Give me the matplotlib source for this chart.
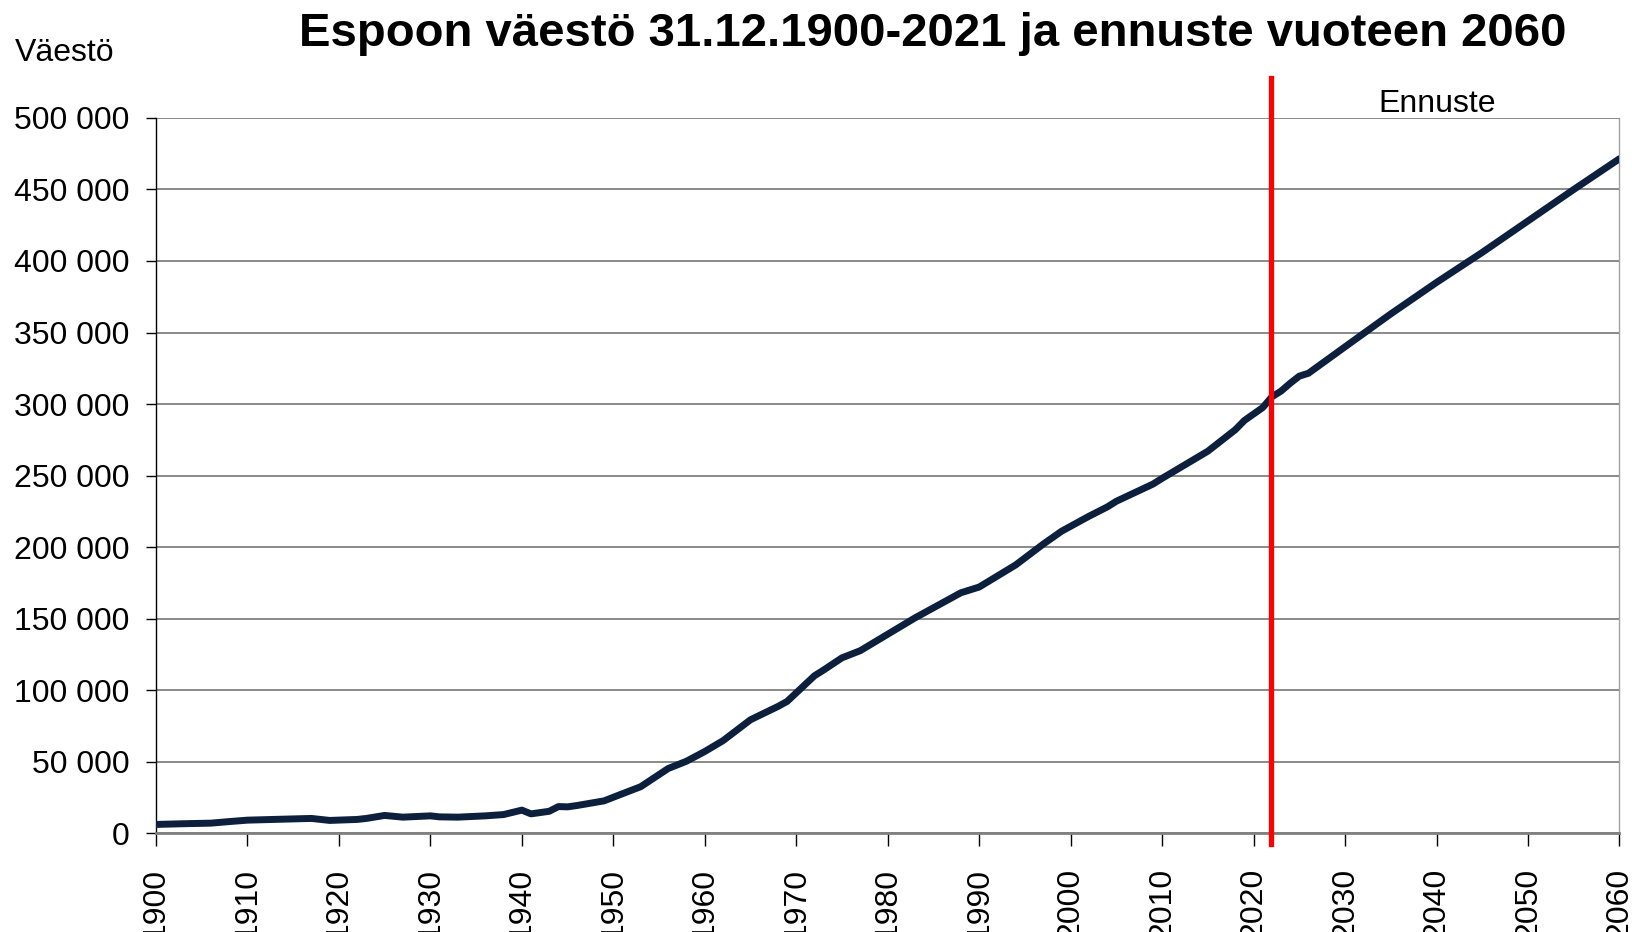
import matplotlib
matplotlib.use("Agg")
import matplotlib.pyplot as plt
from matplotlib.ticker import FuncFormatter, MultipleLocator

plt.rcParams['font.family'] = ['Liberation Sans', 'DejaVu Sans']

# Historical population (31.12.)
hist_years = [1900, 1903, 1906, 1908, 1910, 1914, 1917, 1919, 1922, 1923, 1925, 1927,
              1930, 1931, 1933, 1936, 1938, 1940, 1941, 1943, 1944, 1945, 1946, 1949,
              1950, 1953, 1956, 1958, 1960, 1962, 1965, 1968, 1969, 1972, 1973, 1975,
              1977, 1980, 1983, 1986, 1988, 1990, 1994, 1997, 1999, 2002, 2004, 2005,
              2009, 2010, 2015, 2018, 2019, 2020, 2021]
hist_values = [6000, 6500, 6900, 8000, 9000, 9700, 10200, 8800, 9500, 10200, 12300, 11100,
               12000, 11300, 11100, 12000, 12900, 16000, 13400, 15200, 18500, 18300, 19200, 22500,
               25000, 32400, 45100, 50200, 57000, 64600, 79200, 88500, 92000, 110000, 114000, 122500,
               127500, 139000, 150500, 161000, 168000, 172000, 187500, 202000, 211000, 221500, 228000, 232000,
               244000, 248000, 267000, 282000, 288500, 293000, 297500]

# Forecast
fc_years = [2022, 2023, 2024, 2025, 2026, 2030, 2035, 2040, 2045, 2050, 2055, 2060]
fc_values = [305000, 309000, 314500, 319500, 321500, 340000, 363000, 385000, 406000, 428000, 450000, 471500]

years = hist_years + fc_years
values = hist_values + fc_values

forecast_start = 2021.9
title = "Espoon väestö 31.12.1900-2021 ja ennuste vuoteen 2060"
ylabel = "Väestö"
forecast_label = "Ennuste"

fig = plt.figure(figsize=(16.33, 9.32), dpi=100)
ax = fig.add_axes([0.0955, 0.1062, 0.8962, 0.7672])

ax.plot(years, values, color='#0c1f3d', lw=5.0, solid_joinstyle='round',
        solid_capstyle='round', zorder=3)

ax.set_xlim(1900, 2060)
ax.set_ylim(0, 500000)
ax.xaxis.set_major_locator(MultipleLocator(10))
ax.yaxis.set_major_locator(MultipleLocator(50000))
ax.yaxis.set_major_formatter(FuncFormatter(lambda v, p: f"{int(v):,}".replace(",", " ")))

ax.grid(axis='y', color='#808080', lw=1.3, zorder=1)
ax.set_axisbelow(True)

ax.spines['top'].set_visible(False)
ax.spines['left'].set_color('black')
ax.spines['left'].set_linewidth(1.0)
ax.spines['bottom'].set_color('#808080')
ax.spines['bottom'].set_linewidth(2.0)
ax.spines['right'].set_color('#a0a0a0')
ax.spines['right'].set_linewidth(1.0)

ax.tick_params(axis='y', direction='out', length=7, width=1, labelsize=23, pad=12, colors='black')
ax.tick_params(axis='x', direction='out', length=9, width=1, labelsize=23, pad=16,
               labelrotation=90, colors='black')
for lab in ax.get_xticklabels():
    lab.set_va('top')

# Forecast divider
ax.plot([forecast_start, forecast_start], [-8000, 528000], color='#ff0000', lw=3.8,
        clip_on=False, zorder=4)
ax.text(2040.1, 510000, forecast_label, fontsize=23, ha='center', va='center')

fig.text(0.0092, 0.943, ylabel, fontsize=23, ha='left', va='center')
fig.text(0.571, 0.963, title, fontsize=34, fontweight='bold', ha='center', va='center')

fig.savefig("out.png", dpi=100)
